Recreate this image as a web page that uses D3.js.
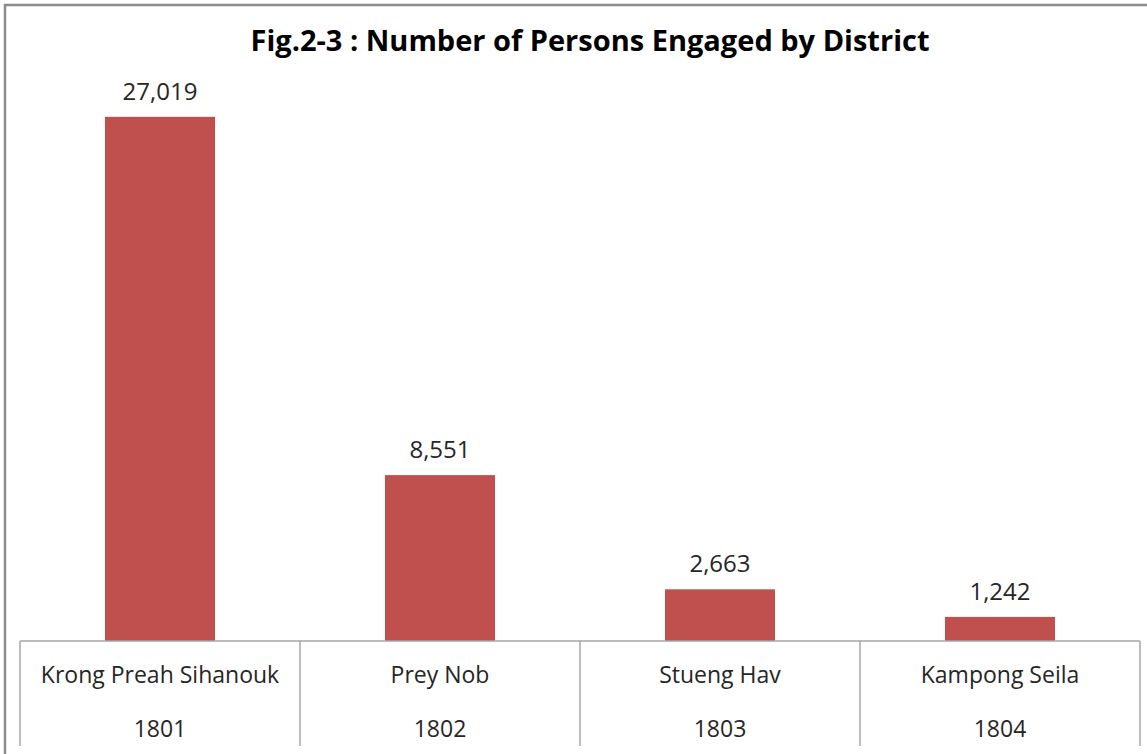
<!DOCTYPE html>
<html>
<head>
<meta charset="utf-8">
<script src="https://cdn.jsdelivr.net/npm/d3@7"></script>
<style>
  body { margin: 0; background: #fff; }
  svg text { font-family: "Open Sans", sans-serif; fill: #262626; }
</style>
</head>
<body>
<div id="chart"></div>
<script>
// chart data
var districts = ['Krong Preah Sihanouk', 'Prey Nob', 'Stueng Hav', 'Kampong Seila'];
var codes = ['1801', '1802', '1803', '1804'];
var persons = [27019, 8551, 2663, 1242];
var yMax = 30000;

var width = 1147, height = 754;
var margin = {top: 59, left: 20, right: 7, bottom: 113};
var plotW = width - margin.left - margin.right;
var plotH = height - margin.top - margin.bottom;

var svg = d3.select('#chart').append('svg')
    .attr('width', width)
    .attr('height', height);

// outer frame
svg.append('path')
    .attr('d', 'M5,' + height + 'V5H' + width)
    .attr('fill', 'none')
    .attr('stroke', '#8c8c8c')
    .attr('stroke-width', 2.5);

svg.append('text')
    .attr('x', 590)
    .attr('y', 51)
    .attr('text-anchor', 'middle')
    .style('font-size', '29px')
    .style('font-weight', 'bold')
    .style('fill', '#000')
    .text('Fig.2-3 : Number of Persons Engaged by District');

var g = svg.append('g')
    .attr('transform', 'translate(' + margin.left + ',' + margin.top + ')');

var x = d3.scaleBand()
    .domain(districts)
    .range([0, plotW])
    .paddingInner(0.607)
    .paddingOuter(0.3035);

var y = d3.scaleLinear()
    .domain([0, yMax])
    .range([plotH, 0]);

g.selectAll('rect.bar')
    .data(persons)
    .enter().append('rect')
    .attr('class', 'bar')
    .attr('x', function(d, i) { return x(districts[i]); })
    .attr('y', function(d) { return y(d); })
    .attr('width', x.bandwidth())
    .attr('height', function(d) { return plotH - y(d); })
    .attr('fill', '#c0504d');

g.selectAll('text.val')
    .data(persons)
    .enter().append('text')
    .attr('class', 'val')
    .attr('x', function(d, i) { return x(districts[i]) + x.bandwidth() / 2; })
    .attr('y', function(d) { return y(d) - 17; })
    .attr('text-anchor', 'middle')
    .style('font-size', '24px')
    .text(function(d) { return d3.format(',')(d); });

// category axis with table-like dividers
var step = plotW / districts.length;
var axis = g.append('g').attr('transform', 'translate(0,' + plotH + ')');
axis.append('line')
    .attr('x1', 0).attr('x2', plotW)
    .attr('stroke', '#a6a6a6').attr('stroke-width', 1.5);
axis.selectAll('line.div')
    .data(d3.range(districts.length + 1))
    .enter().append('line')
    .attr('class', 'div')
    .attr('x1', function(i) { return i * step; })
    .attr('x2', function(i) { return i * step; })
    .attr('y1', 0).attr('y2', 105)
    .attr('stroke', '#a6a6a6').attr('stroke-width', 1.5);

axis.selectAll('text.name')
    .data(districts)
    .enter().append('text')
    .attr('class', 'name')
    .attr('x', function(d) { return x(d) + x.bandwidth() / 2; })
    .attr('y', 42)
    .attr('text-anchor', 'middle')
    .style('font-size', '23px')
    .text(function(d) { return d; });

axis.selectAll('text.code')
    .data(codes)
    .enter().append('text')
    .attr('class', 'code')
    .attr('x', function(d, i) { return x(districts[i]) + x.bandwidth() / 2; })
    .attr('y', 96)
    .attr('text-anchor', 'middle')
    .style('font-size', '23px')
    .text(function(d) { return d; });
</script>
</body>
</html>
